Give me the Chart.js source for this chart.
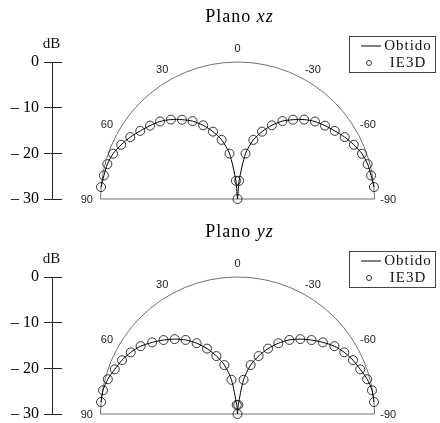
<!DOCTYPE html>
<html>
<head>
<meta charset="utf-8">
<script src="https://cdn.jsdelivr.net/npm/chart.js@4.4.0/dist/chart.umd.min.js"></script>
<style>
  html, body { margin: 0; padding: 0; background: #fff; overflow: hidden; }
  #wrap { position: relative; width: 440px; height: 423px; overflow: hidden; }
  .plot { position: absolute; left: 0; width: 440px; height: 214px; }
</style>
</head>
<body>
<div id="wrap">
  <div class="plot" style="top:0"><canvas id="xzChart" width="440" height="214"></canvas></div>
  <div class="plot" style="top:215px"><canvas id="yzChart" width="440" height="214"></canvas></div>
</div>
<script>
// angle in degrees, 0 = top, positive to the left
const angles = [85, 80, 75, 70, 65, 60, 55, 50, 45, 40, 35, 30, 25, 20, 15, 10, 5, 0,
  -5, -10, -15, -20, -25, -30, -35, -40, -45, -50, -55, -60, -65, -70, -75, -80, -85];

// plano xz (dB)
const xzObtido = [0.0, -0.3, -0.5, -1.0, -1.9, -2.9, -4.0, -5.0, -6.0, -7.3, -8.8, -10.3, -12.2, -14.3, -16.6, -19.9, -26.0, -30.0,
  -26.0, -19.9, -16.6, -14.3, -12.2, -10.3, -8.8, -7.3, -6.0, -5.0, -4.0, -2.9, -1.9, -1.0, -0.5, -0.3, 0.0];
const xzIE3D = [0.0, -0.3, -0.5, -1.0, -1.9, -2.9, -4.0, -5.0, -6.0, -7.3, -8.8, -10.3, -12.2, -14.3, -16.6, -19.9, -26.0, -30.0,
  -26.0, -19.9, -16.6, -14.3, -12.2, -10.3, -8.8, -7.3, -6.0, -5.0, -4.0, -2.9, -1.9, -1.0, -0.5, -0.3, 0.0];

// plano yz (dB)
const yzObtido = [0.0, -0.1, -0.6, -1.4, -2.1, -3.0, -4.1, -5.6, -7.1, -8.6, -10.2, -12.1, -14.2, -16.5, -18.9, -22.4, -28.0, -30.0,
  -28.0, -22.4, -18.9, -16.5, -14.2, -12.1, -10.2, -8.6, -7.1, -5.6, -4.1, -3.0, -2.1, -1.4, -0.6, -0.1, 0.0];
const yzIE3D = [0.0, -0.1, -0.6, -1.4, -2.1, -3.0, -4.1, -5.6, -7.1, -8.6, -10.2, -12.1, -14.2, -16.5, -18.9, -22.4, -28.0, -30.0,
  -28.0, -22.4, -18.9, -16.5, -14.2, -12.1, -10.2, -8.6, -7.1, -5.6, -4.1, -3.0, -2.1, -1.4, -0.6, -0.1, 0.0];

const dbTicks = [0, -10, -20, -30];
const angleTicks = [90, 60, 30, 0, -30, -60, -90];
const seriesNames = ['Obtido', 'IE3D'];

const dbMin = -30;
const dbMax = 0;
const SERIF = '"Liberation Serif", "Times New Roman", serif';

// polar (angle, dB) -> plane coords in dB units, origin at -30 dB
function toXY(deg, db) {
    const r = Math.max(db - dbMin, 0);
    const t = deg * Math.PI / 180;
    return { x: -r * Math.sin(t), y: r * Math.cos(t) + dbMin };
}

const polarDecor = {
    id: 'polarDecor',
    beforeDatasetsDraw(chart) {
        const { ctx } = chart;
        const x = chart.scales.x, y = chart.scales.y;
        const cx = x.getPixelForValue(0);
        const cy = y.getPixelForValue(dbMin);
        const rad = cy - y.getPixelForValue(dbMax);
        ctx.save();
        ctx.strokeStyle = '#707070';
        ctx.lineWidth = 1;
        ctx.beginPath();
        ctx.arc(cx, cy, rad, Math.PI, 2 * Math.PI);
        ctx.moveTo(cx - rad, cy);
        ctx.lineTo(cx + rad, cy);
        ctx.stroke();
        ctx.restore();
    },
    afterDraw(chart, args, opts) {
        const { ctx, chartArea } = chart;
        const x = chart.scales.x, y = chart.scales.y;
        ctx.save();

        // axis spine through the middle of the ticks
        const sx = chartArea.left - 9.5;
        ctx.strokeStyle = '#222';
        ctx.lineWidth = 1;
        ctx.beginPath();
        ctx.moveTo(sx, y.getPixelForValue(dbMax));
        ctx.lineTo(sx, y.getPixelForValue(dbMin));
        ctx.stroke();

        ctx.fillStyle = '#111';
        ctx.textAlign = 'center';
        ctx.textBaseline = 'middle';
        ctx.font = '15px ' + SERIF;
        ctx.fillText('dB', sx - 1, 44);

        // angle labels
        ctx.font = '11px "Liberation Sans", Arial, sans-serif';
        ctx.fillStyle = '#222';
        angleTicks.forEach(a => {
            const p = toXY(a, dbMax + 3.0);
            ctx.fillText(String(a), x.getPixelForValue(p.x), y.getPixelForValue(p.y) + 1);
        });

        // title: "Plano " + italic plane name
        ctx.fillStyle = '#000';
        ctx.textAlign = 'left';
        try { ctx.letterSpacing = '1px'; } catch (e) {}
        const f1 = '18px ' + SERIF, f2 = 'italic 18px ' + SERIF;
        ctx.font = f1;
        const w1 = ctx.measureText(opts.title[0]).width;
        ctx.font = f2;
        const w2 = ctx.measureText(opts.title[1]).width;
        const tx = x.getPixelForValue(0) + 2 - (w1 + w2) / 2;
        ctx.font = f1;
        ctx.fillText(opts.title[0], tx, 17);
        ctx.font = f2;
        ctx.fillText(opts.title[1], tx + w1, 17);

        // legend box
        const lb = opts.legendBox;
        ctx.strokeStyle = '#444';
        ctx.strokeRect(lb.x + 0.5, lb.y + 0.5, lb.w, lb.h);
        const ds = chart.data.datasets;
        const r1 = lb.y + 10, r2 = lb.y + 27;
        ctx.strokeStyle = ds[0].borderColor;
        ctx.beginPath();
        ctx.moveTo(lb.x + 12, r1);
        ctx.lineTo(lb.x + 32, r1);
        ctx.stroke();
        ctx.strokeStyle = ds[1].borderColor;
        ctx.beginPath();
        ctx.arc(lb.x + 20, r2, 2.5, 0, 2 * Math.PI);
        ctx.stroke();
        ctx.font = '15px ' + SERIF;
        ctx.fillStyle = '#111';
        ctx.textAlign = 'center';
        ctx.fillText(ds[0].label, lb.x + 59, r1);
        ctx.fillText(ds[1].label, lb.x + 59, r2);
        ctx.restore();
    }
};

function makeChart(id, title, obtido, ie3d) {
    const linePts = angles.map((a, i) => toXY(a, obtido[i]));
    const dotPts = angles.map((a, i) => toXY(a, ie3d[i]));
    return new Chart(document.getElementById(id), {
        type: 'scatter',
        data: {
            datasets: [{
                label: seriesNames[0],
                data: linePts,
                showLine: true,
                borderColor: '#000',
                borderWidth: 1,
                pointRadius: 0,
                tension: 0.25,
                clip: false
            }, {
                label: seriesNames[1],
                data: dotPts,
                showLine: false,
                pointStyle: 'circle',
                pointRadius: 4.5,
                borderColor: '#333',
                backgroundColor: 'rgba(0,0,0,0)',
                pointBorderWidth: 1,
                clip: false
            }]
        },
        options: {
            responsive: false,
            devicePixelRatio: 1,
            animation: false,
            layout: { padding: { top: 62, right: 20, bottom: 15, left: 0 } },
            plugins: {
                legend: { display: false },
                tooltip: { enabled: false },
                polarDecor: { title: title, legendBox: { x: 349, y: 36, w: 86, h: 36 } }
            },
            scales: {
                x: { type: 'linear', display: false, min: -38.43, max: 39.96 },
                y: {
                    type: 'linear',
                    min: dbMin,
                    max: dbMax,
                    afterFit: s => { s.width = 62; },
                    afterBuildTicks: s => { s.ticks = dbTicks.map(v => ({ value: v })); },
                    ticks: {
                        color: '#000',
                        padding: 5,
                        font: { family: SERIF, size: 16 },
                        callback: v => v === 0 ? '0' : '\u2013 ' + Math.abs(v)
                    },
                    grid: { drawOnChartArea: false, tickLength: 18, color: '#222', lineWidth: 1 },
                    border: { display: false }
                }
            }
        },
        plugins: [polarDecor]
    });
}

makeChart('xzChart', ['Plano ', 'xz'], xzObtido, xzIE3D);
makeChart('yzChart', ['Plano ', 'yz'], yzObtido, yzIE3D);
</script>
</body>
</html>
